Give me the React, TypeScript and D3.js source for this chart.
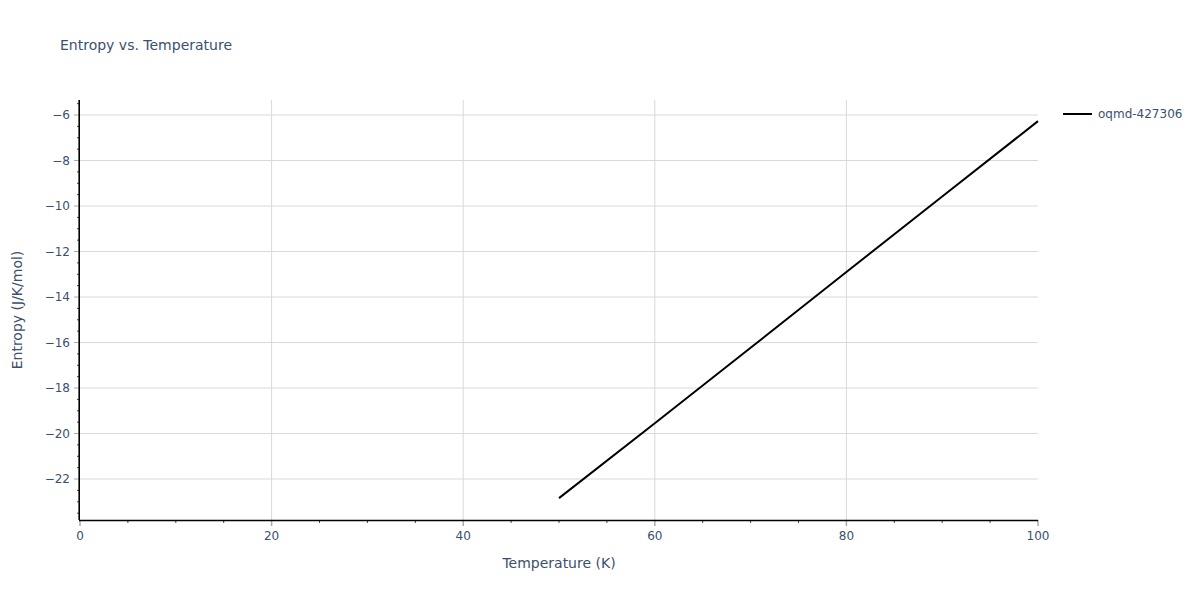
import * as d3 from 'd3'
import { useEffect, useRef } from 'react'

// series
const temperature = [50, 60, 70, 80, 90, 100]
const entropy = [-22.84, -19.55, -16.23, -12.9, -9.58, -6.27]
const seriesName = 'oqmd-427306'

const xTicks = [0, 20, 40, 60, 80, 100]
const yTicks = [-22, -20, -18, -16, -14, -12, -10, -8, -6]

const App = () => {
  const ref = useRef<SVGSVGElement>(null)

  useEffect(() => {
    const svg = d3.select(ref.current)
    svg.selectAll('*').remove()

    const width = 1200
    const height = 600
    const margin = { top: 100, right: 162, bottom: 80, left: 80 }
    const innerW = width - margin.left - margin.right
    const innerH = height - margin.top - margin.bottom
    const font = '"DejaVu Sans", verdana, arial, sans-serif'
    const textColor = '#3b4f6e'

    const x = d3.scaleLinear().domain([0, 100]).range([0, innerW])
    const y = d3.scaleLinear().domain([-23.8, -5.34]).range([innerH, 0])

    svg.append('rect').attr('width', width).attr('height', height).attr('fill', '#fff')

    const g = svg
      .append('g')
      .attr('transform', 'translate(' + margin.left + ',' + margin.top + ')')

    // grid
    g.selectAll('.vgrid')
      .data(xTicks.filter((d) => d > 0 && d < 100))
      .enter()
      .append('line')
      .attr('x1', (d) => x(d))
      .attr('x2', (d) => x(d))
      .attr('y1', 0)
      .attr('y2', innerH)
      .attr('stroke', '#d9d9d9')
      .attr('stroke-width', 1)

    g.selectAll('.hgrid')
      .data(yTicks)
      .enter()
      .append('line')
      .attr('x1', 0)
      .attr('x2', innerW)
      .attr('y1', (d) => y(d))
      .attr('y2', (d) => y(d))
      .attr('stroke', '#d9d9d9')
      .attr('stroke-width', 1)

    // minor ticks
    const xMinor = d3.range(5, 100, 5).filter((d) => d % 20 !== 0)
    g.selectAll('.xminor')
      .data(xMinor)
      .enter()
      .append('line')
      .attr('x1', (d) => x(d))
      .attr('x2', (d) => x(d))
      .attr('y1', innerH)
      .attr('y2', innerH + 3)
      .attr('stroke', '#444')
      .attr('stroke-width', 1)

    const yMinor = d3.range(-23.5, -5.3, 0.5).filter((d) => d % 2 !== 0)
    g.selectAll('.yminor')
      .data(yMinor)
      .enter()
      .append('line')
      .attr('x1', -3)
      .attr('x2', 0)
      .attr('y1', (d) => y(d))
      .attr('y2', (d) => y(d))
      .attr('stroke', '#444')
      .attr('stroke-width', 1)

    // major ticks
    g.selectAll('.xmajor')
      .data(xTicks)
      .enter()
      .append('line')
      .attr('x1', (d) => x(d))
      .attr('x2', (d) => x(d))
      .attr('y1', innerH)
      .attr('y2', innerH + 6)
      .attr('stroke', '#aaa')
      .attr('stroke-width', 1.5)

    g.selectAll('.ymajor')
      .data(yTicks)
      .enter()
      .append('line')
      .attr('x1', -6)
      .attr('x2', 0)
      .attr('y1', (d) => y(d))
      .attr('y2', (d) => y(d))
      .attr('stroke', '#aaa')
      .attr('stroke-width', 1)

    // axis lines
    g.append('line')
      .attr('x1', -1)
      .attr('x2', innerW)
      .attr('y1', innerH + 0.5)
      .attr('y2', innerH + 0.5)
      .attr('stroke', '#000')
      .attr('stroke-width', 1.6)
    g.append('line')
      .attr('x1', -0.8)
      .attr('x2', -0.8)
      .attr('y1', 0)
      .attr('y2', innerH)
      .attr('stroke', '#000')
      .attr('stroke-width', 1.6)

    // tick labels
    g.selectAll('.xlabel')
      .data(xTicks)
      .enter()
      .append('text')
      .attr('x', (d) => x(d))
      .attr('y', innerH + 20)
      .attr('text-anchor', 'middle')
      .attr('font-family', font)
      .attr('font-size', 12)
      .attr('fill', textColor)
      .text((d) => d3.format('d')(d))

    g.selectAll('.ylabel')
      .data(yTicks)
      .enter()
      .append('text')
      .attr('x', -10)
      .attr('y', (d) => y(d))
      .attr('dy', '0.35em')
      .attr('text-anchor', 'end')
      .attr('font-family', font)
      .attr('font-size', 12)
      .attr('fill', textColor)
      .text((d) => '\u2212' + Math.abs(d))

    // series line
    const line = d3
      .line<number>()
      .x((_d, i) => x(temperature[i]))
      .y((d) => y(d))

    g.append('path')
      .datum(entropy)
      .attr('d', line)
      .attr('fill', 'none')
      .attr('stroke', '#000')
      .attr('stroke-width', 2)

    // axis titles
    svg
      .append('text')
      .attr('x', margin.left + innerW / 2)
      .attr('y', 568)
      .attr('text-anchor', 'middle')
      .attr('font-family', font)
      .attr('font-size', 14)
      .attr('fill', textColor)
      .text('Temperature (K)')

    svg
      .append('text')
      .attr('transform', 'translate(22,' + (margin.top + innerH / 2) + ') rotate(-90)')
      .attr('text-anchor', 'middle')
      .attr('font-family', font)
      .attr('font-size', 14)
      .attr('fill', textColor)
      .text('Entropy (J/K/mol)')

    // title
    svg
      .append('text')
      .attr('x', 60)
      .attr('y', 50)
      .attr('font-family', font)
      .attr('font-size', 14)
      .attr('fill', textColor)
      .text('Entropy vs. Temperature')

    // legend
    const leg = svg.append('g').attr('transform', 'translate(1063,114)')
    leg
      .append('line')
      .attr('x1', 0)
      .attr('x2', 29)
      .attr('y1', 0)
      .attr('y2', 0)
      .attr('stroke', '#000')
      .attr('stroke-width', 2)
    leg
      .append('text')
      .attr('x', 35)
      .attr('y', 0)
      .attr('dy', '0.35em')
      .attr('font-family', font)
      .attr('font-size', 12)
      .attr('fill', textColor)
      .text(seriesName)
  }, [])

  return (
    <svg
      ref={ref}
      width={1200}
      height={600}
      style={{ display: 'block', position: 'absolute', left: 0, top: 0 }}
    />
  )
}

export default App
